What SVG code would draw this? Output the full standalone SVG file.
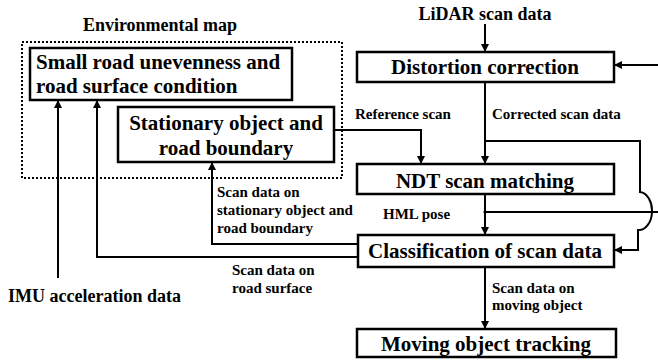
<svg xmlns="http://www.w3.org/2000/svg" width="658" height="362" viewBox="0 0 658 362">
  <style>
    .box { fill: #fff; stroke: #000; stroke-width: 2.5; }
    .map { fill: none; stroke: #000; stroke-width: 2; stroke-dasharray: 2 2; }
    .edge { fill: none; stroke: #000; stroke-width: 2; }
    text { font-family: 'Liberation Serif', 'DejaVu Serif', serif; font-weight: bold; fill: #000; }
    .title { font-size: 21px; }
    .head { font-size: 18px; }
    .lbl { font-size: 15px; }
  </style>
  <defs>
    <marker id="arrow" viewBox="0 0 8 8" refX="8" refY="4" markerWidth="4" markerHeight="4" orient="auto" markerUnits="strokeWidth">
      <path d="M0,0 L8,4 L0,8 z" fill="#000"/>
    </marker>
  </defs>
  <rect width="658" height="362" fill="#fff"/>

  <!-- environmental map frame -->
  <g id="environmental-map">
    <rect class="map" x="22" y="42" width="320" height="136"/>
    <text class="head" x="160" y="31" text-anchor="middle">Environmental map</text>
  </g>

  <g id="road-surface">
    <rect class="box" x="30" y="48" width="262" height="52"/>
    <text class="title" x="36" y="69">Small road unevenness and</text>
    <text class="title" x="36" y="93">road surface condition</text>
  </g>

  <g id="stationary">
    <rect class="box" x="118" y="107" width="216" height="55"/>
    <text class="title" x="226" y="130" text-anchor="middle">Stationary object and</text>
    <text class="title" x="226" y="155" text-anchor="middle">road boundary</text>
  </g>

  <g id="lidar">
    <text class="head" x="485" y="20" text-anchor="middle">LiDAR scan data</text>
  </g>

  <g id="imu">
    <text class="head" x="8" y="302">IMU acceleration data</text>
  </g>

  <g id="distortion">
    <rect class="box" x="357" y="52" width="257" height="30"/>
    <text class="title" x="485" y="74" text-anchor="middle">Distortion correction</text>
  </g>

  <g id="ndt">
    <rect class="box" x="357" y="164" width="257" height="30"/>
    <text class="title" x="485" y="188" text-anchor="middle">NDT scan matching</text>
  </g>

  <g id="classification">
    <rect class="box" x="358" y="235" width="256" height="32"/>
    <text class="title" x="485" y="258" text-anchor="middle">Classification of scan data</text>
  </g>

  <g id="tracking">
    <rect class="box" x="357" y="329" width="259" height="28"/>
    <text class="title" x="486" y="351" text-anchor="middle">Moving object tracking</text>
  </g>

  <!-- connectors -->
  <g id="connectors">
    <path class="edge" d="M485,24 V52" marker-end="url(#arrow)"/>
    <path class="edge" d="M658,65 H614" marker-end="url(#arrow)"/>
    <path class="edge" d="M485,82 V164" marker-end="url(#arrow)"/>
    <path class="edge" d="M485,141 H640 V192 A13,19 0 0 1 638,230 V250 H614" marker-end="url(#arrow)"/>
    <path class="edge" d="M334,130 H421 V164" marker-end="url(#arrow)"/>
    <path class="edge" d="M485,194 V235" marker-end="url(#arrow)"/>
    <path class="edge" d="M485,212 H658"/>
    <circle cx="485" cy="212" r="1.6" fill="#000"/>
    <path class="edge" d="M485,267 V329" marker-end="url(#arrow)"/>
    <path class="edge" d="M358,244 H212 V162" marker-end="url(#arrow)"/>
    <path class="edge" d="M358,257 H97 V100" marker-end="url(#arrow)"/>
    <path class="edge" d="M58,278 V100" marker-end="url(#arrow)"/>
  </g>

  <!-- connector labels -->
  <g id="labels">
    <text class="lbl" x="355" y="119">Reference scan</text>
    <text class="lbl" x="492" y="119">Corrected scan data</text>
    <text class="lbl" x="383" y="219">HML pose</text>
    <text class="lbl" x="217" y="197">Scan data on</text>
    <text class="lbl" x="217" y="215">stationary object and</text>
    <text class="lbl" x="217" y="233">road boundary</text>
    <text class="lbl" x="232" y="275">Scan data on</text>
    <text class="lbl" x="232" y="293">road surface</text>
    <text class="lbl" x="492" y="293">Scan data on</text>
    <text class="lbl" x="492" y="310">moving object</text>
  </g>
</svg>
